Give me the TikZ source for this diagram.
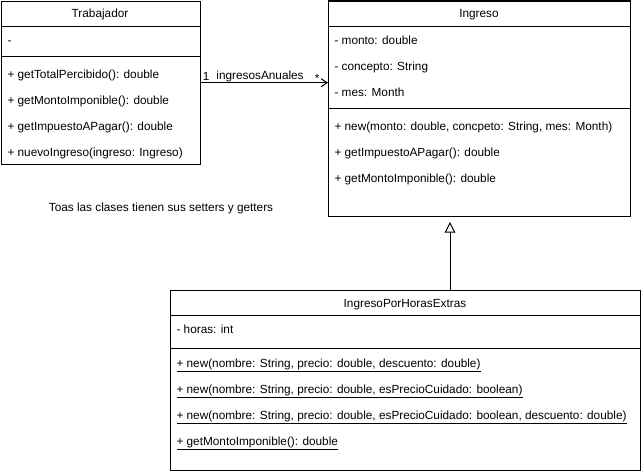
\documentclass[tikz,border=0pt]{standalone}
\usepackage{fontspec}
\setmainfont{Liberation Sans}
\usetikzlibrary{arrows.meta}

\begin{document}
\begin{tikzpicture}[x=0.75pt, y=-0.75pt, line width=0.75pt,
    font=\fontsize{8.85}{11}\selectfont,
    classbox/.style={rectangle, draw, anchor=north west, inner sep=0pt},
    member/.style={anchor=west, inner sep=0pt, text height=7pt, text depth=0.5pt},
    ctitle/.style={inner sep=0pt, text height=7pt, text depth=0.5pt}]
    \useasboundingbox (0,0) rectangle (641,471);

    % classes
    \node [classbox, minimum width=149.6pt, minimum height=122.6pt] (trabajador) at (0.5,0.5) {};
    \node [classbox, minimum width=226.5pt, minimum height=161.6pt] (ingreso) at (328,0.5) {};
    \node [classbox, minimum width=352.5pt, minimum height=135pt] (horasextras) at (170,290) {};

    \draw (trabajador.west |- 0,26) -- (trabajador.east |- 0,26);
    \draw (trabajador.west |- 0,56) -- (trabajador.east |- 0,56);
    \draw (ingreso.west |- 0,26) -- (ingreso.east |- 0,26);
    \draw (ingreso.west |- 0,108) -- (ingreso.east |- 0,108);
    \draw (horasextras.west |- 0,315) -- (horasextras.east |- 0,315);
    \draw (horasextras.west |- 0,348) -- (horasextras.east |- 0,348);

    % Trabajador
    \node [ctitle] (trabajadortitle) at (100,13) {Trabajador};
    \node [member] (trabattr) at (7,40) {-};
    \node [member] (trabop1) at (7,74) {+ getTotalPercibido(): double};
    \node [member] (trabop2) at (7,100) {+ getMontoImponible(): double};
    \node [member] (trabop3) at (7,126) {+ getImpuestoAPagar(): double};
    \node [member] (trabop4) at (7,152) {+ nuevoIngreso(ingreso: Ingreso)};

    % Ingreso
    \node [ctitle] (ingresotitle) at (479,13) {Ingreso};
    \node [member] (ingattr1) at (334,40) {- monto: double};
    \node [member] (ingattr2) at (334,66) {- concepto: String};
    \node [member] (ingattr3) at (334,92) {- mes: Month};
    \node [member] (ingop1) at (334,126) {+ new(monto: double, concpeto: String, mes: Month)};
    \node [member] (ingop2) at (334,152) {+ getImpuestoAPagar(): double};
    \node [member] (ingop3) at (334,178) {+ getMontoImponible(): double};

    % IngresoPorHorasExtras
    \node [ctitle] (horastitle) at (405,303) {IngresoPorHorasExtras};
    \node [member] (horasattr) at (176,329) {- horas: int};
    \node [member] (horasop1) at (176,363) {\underline{+ new(nombre: String, precio: double, descuento: double)}};
    \node [member] (horasop2) at (176,389) {\underline{+ new(nombre: String, precio: double, esPrecioCuidado: boolean)}};
    \node [member] (horasop3) at (176,415) {\underline{+ new(nombre: String, precio: double, esPrecioCuidado: boolean, descuento: double)}};
    \node [member] (horasop4) at (176,441) {\underline{+ getMontoImponible(): double}};

    \node [ctitle] (note) at (161,207) {Toas las clases tienen sus setters y getters};

    % relations
    \draw [-{Straight Barb[length=4.5pt, width=6pt]}] (trabajador.east) -- (trabajador.east -| ingreso.west)
        node [pos=0.465, above, inner sep=0.5pt] {ingresosAnuales}
        node [pos=0, anchor=south west, inner sep=1pt] {1}
        node [pos=1, anchor=base east, inner sep=0pt, xshift=-6pt] {*};
    \draw [-{Triangle[open, length=8pt, width=8pt]}, shorten >=3.75pt] (horasextras.north -| 450,0) -- (ingreso.south -| 450,0);
\end{tikzpicture}
\end{document}
